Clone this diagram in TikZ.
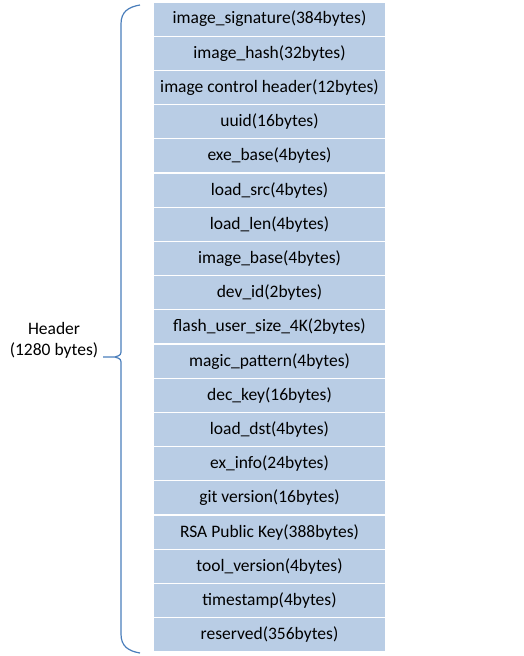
\documentclass[tikz,border=0pt]{standalone}
\usepackage{fontspec}
\setmainfont{Carlito}
\usetikzlibrary{positioning}

\definecolor{fieldblue}{HTML}{B9CDE5}
\definecolor{bracecol}{HTML}{4A7EBB}

\begin{document}
\begin{tikzpicture}[x=1pt, y=-1pt, font=\fontsize{17.5}{21}\selectfont,
    field/.style={rectangle, draw=white, line width=1.2pt, fill=fieldblue, minimum width=233pt, minimum height=34.2pt, inner sep=0pt, text=black}]
    \useasboundingbox (0,0) rectangle (524,656);

    % Define header fields
    \node[field] (f0) at (269.5, 19.1) {image\_signature(384bytes)};
    \node[field] (f1) at (269.5, 53.3) {image\_hash(32bytes)};
    \node[field] (f2) at (269.5, 87.5) {image control header(12bytes)};
    \node[field] (f3) at (269.5, 121.7) {uuid(16bytes)};
    \node[field] (f4) at (269.5, 155.9) {exe\_base(4bytes)};
    \node[field] (f5) at (269.5, 190.1) {load\_src(4bytes)};
    \node[field] (f6) at (269.5, 224.3) {load\_len(4bytes)};
    \node[field] (f7) at (269.5, 258.5) {image\_base(4bytes)};
    \node[field] (f8) at (269.5, 292.7) {dev\_id(2bytes)};
    \node[field] (f9) at (269.5, 326.9) {flash\_user\_size\_4K(2bytes)};
    \node[field] (f10) at (269.5, 361.1) {magic\_pattern(4bytes)};
    \node[field] (f11) at (269.5, 395.3) {dec\_key(16bytes)};
    \node[field] (f12) at (269.5, 429.5) {load\_dst(4bytes)};
    \node[field] (f13) at (269.5, 463.7) {ex\_info(24bytes)};
    \node[field] (f14) at (269.5, 497.9) {git version(16bytes)};
    \node[field] (f15) at (269.5, 532.1) {RSA Public Key(388bytes)};
    \node[field] (f16) at (269.5, 566.3) {tool\_version(4bytes)};
    \node[field] (f17) at (269.5, 600.5) {timestamp(4bytes)};
    \node[field] (f18) at (269.5, 634.7) {reserved(356bytes)};

    % Header label
    \node[align=center, text=black] (header) at (54, 340.5) {Header\\(1280 bytes)};

    % Brace
    \coordinate (btop) at (140, 5);
    \coordinate (btip) at (103, 357);
    \coordinate (bbot) at (140, 653);
    \draw[bracecol, line width=1.2pt]
        (btop) .. controls (128, 7) and (121, 12) .. (121, 24)
        -- (121, 349) .. controls (121, 355) .. (115, 357) -- (btip);
    \draw[bracecol, line width=1.2pt]
        (bbot) .. controls (128, 651) and (121, 646) .. (121, 634)
        -- (121, 365) .. controls (121, 359) .. (115, 357);
\end{tikzpicture}
\end{document}
